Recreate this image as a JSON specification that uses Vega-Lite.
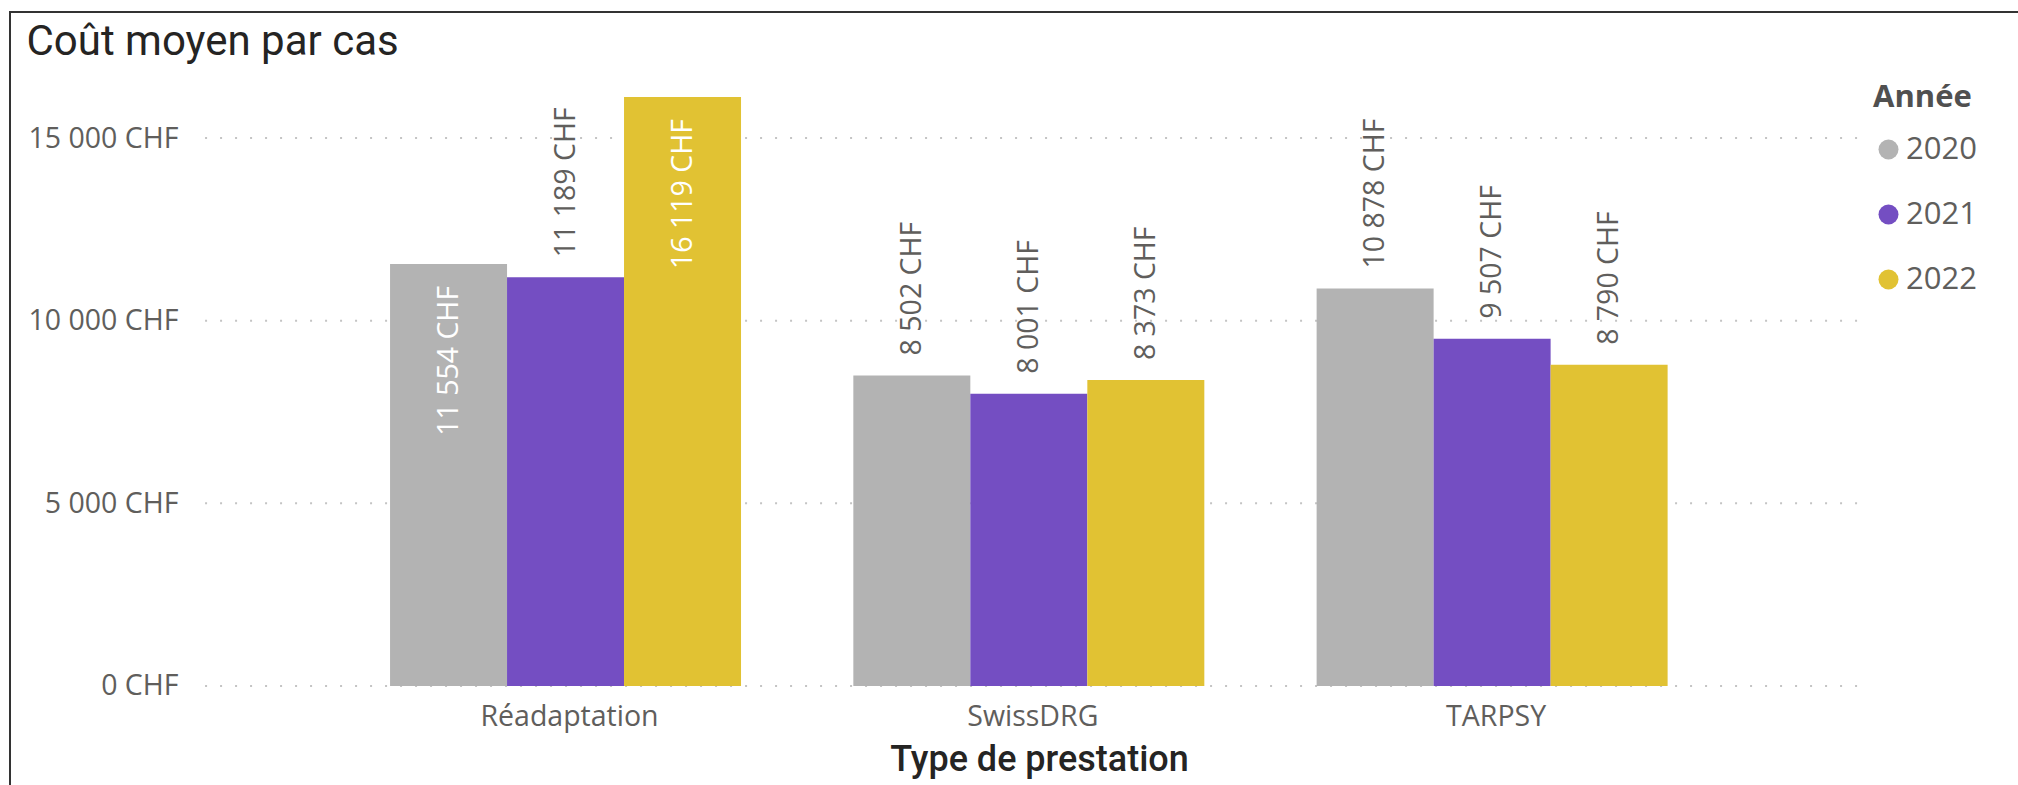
{
  "$schema": "https://vega.github.io/schema/vega-lite/v6.json",
  "width": 2008,
  "height": 773,
  "autosize": "none",
  "padding": {"left": 10, "top": 12, "right": 0, "bottom": 0},
  "background": "white",
  "config": {
    "locale": {"number": {"decimal": ",", "thousands": " ", "grouping": [3], "currency": ["", " CHF"]}},
    "view": {"stroke": "#333333", "strokeWidth": 2, "strokeDash": [2008, 2781, 773]},
    "font": "Open Sans"
  },
  "data": {
    "values": [
      {"type": "Réadaptation", "annee": "2020", "cout": 11554},
      {"type": "Réadaptation", "annee": "2021", "cout": 11189},
      {"type": "Réadaptation", "annee": "2022", "cout": 16119},
      {"type": "SwissDRG", "annee": "2020", "cout": 8502},
      {"type": "SwissDRG", "annee": "2021", "cout": 8001},
      {"type": "SwissDRG", "annee": "2022", "cout": 8373},
      {"type": "TARPSY", "annee": "2020", "cout": 10878},
      {"type": "TARPSY", "annee": "2021", "cout": 9507},
      {"type": "TARPSY", "annee": "2022", "cout": 8790}
    ]
  },
  "layer": [
    {
      "data": {"values": [{"grille": 0}, {"grille": 5000}, {"grille": 10000}, {"grille": 15000}]},
      "mark": {"type": "rule", "stroke": "#c4c4c4", "strokeWidth": 2, "strokeDash": [2, 13]},
      "encoding": {
        "y": {"field": "grille", "type": "quantitative"},
        "x": {"datum": "Réadaptation", "type": "nominal", "bandPosition": -0.527},
        "x2": {"datum": "TARPSY", "bandPosition": 1.568}
      }
    },
    {
      "mark": {"type": "bar"},
      "encoding": {
        "x": {
          "field": "type", "type": "nominal",
          "sort": ["Réadaptation", "SwissDRG", "TARPSY"],
          "scale": {"domain": ["Réadaptation", "SwissDRG", "TARPSY"], "paddingInner": 0.2424, "paddingOuter": 0.7883, "align": 0.5203, "round": false},
          "axis": {
            "title": "Type de prestation",
            "offset": -60,
            "grid": false,
            "domain": false, "ticks": false, "tickSize": 0,
            "labelPadding": 0, "labelBaseline": "alphabetic", "labelAngle": 0, "labelAlign": "center", "labelOffset": 4,
            "labelFont": "Open Sans", "labelFontSize": 28.5, "labelColor": "#605E5C", "labelLimit": 400,
            "titleFont": "Roboto", "titleFontSize": 36, "titleFontWeight": 500, "titleColor": "#252423",
            "titleX": 1029, "titleY": 45, "titleBaseline": "alphabetic", "titleAlign": "center"
          }
        },
        "xOffset": {"field": "annee", "type": "nominal", "scale": {"paddingInner": 0, "paddingOuter": 0}},
        "y": {
          "field": "cout", "type": "quantitative", "stack": null,
          "scale": {"domain": [-2710, 18449], "nice": false, "zero": false},
          "axis": {
            "title": "Coût moyen par cas",
            "titleAngle": 0, "titleX": -152, "titleY": 42, "titleAlign": "left", "titleBaseline": "alphabetic",
            "titleFont": "Roboto", "titleFontSize": 42, "titleFontWeight": "normal", "titleColor": "#252423",
            "values": [0, 5000, 10000, 15000], "format": "$,.0f",
            "grid": false, "domain": false, "ticks": false, "tickSize": 0,
            "offset": -168, "labelPadding": 0,
            "labelFont": "Open Sans", "labelFontSize": 28.5, "labelColor": "#605E5C",
            "labelAlign": "right", "labelBaseline": "middle", "labelLimit": 400
          }
        },
        "color": {
          "field": "annee", "type": "nominal",
          "scale": {"domain": ["2020", "2021", "2022"], "range": ["#B3B3B3", "#744EC2", "#E1C233"]},
          "legend": {
            "title": "Année",
            "orient": "none", "legendX": 1863, "legendY": 71,
            "padding": 0,
            "titleFont": "Open Sans", "titleFontSize": 31, "titleFontWeight": "bold", "titleColor": "#505050", "titlePadding": 20,
            "labelFont": "Open Sans", "labelFontSize": 31, "labelColor": "#605E5C", "labelOffset": 2,
            "symbolType": "circle", "symbolSize": 400, "symbolStrokeWidth": 0, "rowPadding": 33
          }
        }
      }
    },
    {
      "transform": [{"filter": "!(datum.type === 'Réadaptation' && datum.annee !== '2021')"}],
      "mark": {"type": "text", "angle": 270, "align": "left", "baseline": "middle", "dx": 20, "font": "Open Sans", "fontSize": 28.5, "color": "#605E5C"},
      "encoding": {
        "x": {"field": "type", "type": "nominal"},
        "xOffset": {"field": "annee", "type": "nominal"},
        "y": {"field": "cout", "type": "quantitative", "stack": null},
        "text": {"field": "cout", "type": "quantitative", "format": "$,.0f"}
      }
    },
    {
      "transform": [{"filter": "datum.type === 'Réadaptation' && datum.annee !== '2021'"}],
      "mark": {"type": "text", "angle": 270, "align": "right", "baseline": "middle", "dx": -22, "font": "Open Sans", "fontSize": 28.5, "color": "#FFFFFF"},
      "encoding": {
        "x": {"field": "type", "type": "nominal"},
        "xOffset": {"field": "annee", "type": "nominal"},
        "y": {"field": "cout", "type": "quantitative", "stack": null},
        "text": {"field": "cout", "type": "quantitative", "format": "$,.0f"}
      }
    }
  ]
}
